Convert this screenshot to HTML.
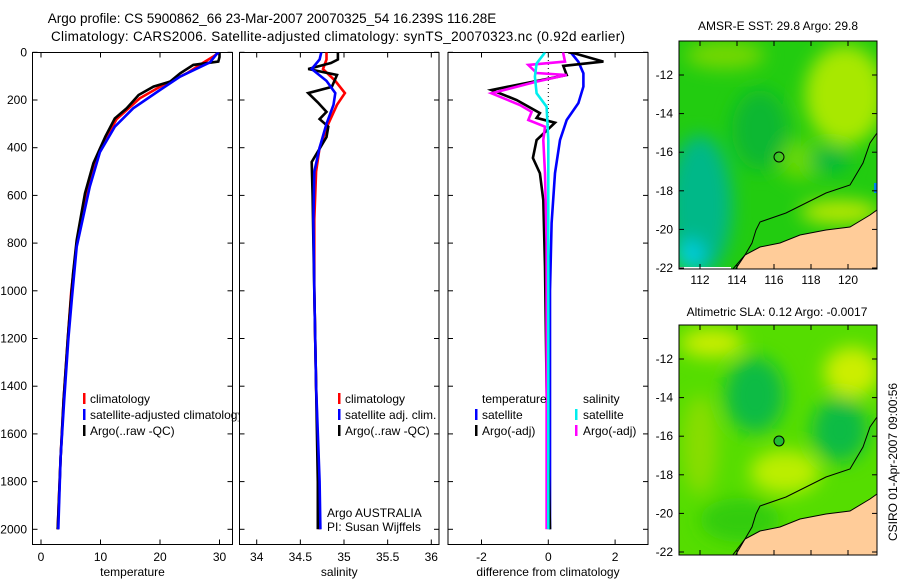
<!DOCTYPE html>
<html><head><meta charset="utf-8">
<style>
html,body{margin:0;padding:0;background:#fff;}
svg{display:block;font-family:"Liberation Sans",sans-serif;}
</style></head>
<body>
<svg id="fig" width="900" height="580" viewBox="0 0 900 580" xmlns="http://www.w3.org/2000/svg">
<defs>
<clipPath id="c1"><rect x="32.5" y="52.5" width="200" height="492"/></clipPath>
<clipPath id="c2"><rect x="239.5" y="52.5" width="199.5" height="492"/></clipPath>
<clipPath id="c3"><rect x="448" y="52.5" width="200" height="492"/></clipPath>
<clipPath id="cl1"><rect x="32.5" y="52.5" width="206" height="492"/></clipPath>
<clipPath id="m1"><rect x="679" y="41" width="198" height="228"/></clipPath>
<clipPath id="m2"><rect x="679" y="325" width="198" height="230"/></clipPath>
<filter id="bl" x="-50%" y="-50%" width="200%" height="200%"><feGaussianBlur stdDeviation="9"/></filter>
</defs>
<text x="272" y="23" font-size="13.5" text-anchor="middle">Argo profile: CS 5900862_66 23-Mar-2007 20070325_54 16.239S 116.28E</text>
<text x="338" y="41" font-size="13.5" text-anchor="middle" textLength="574">Climatology: CARS2006. Satellite-adjusted climatology: synTS_20070323.nc (0.92d earlier)</text>

<!-- maps -->
<g>
<text x="778" y="30" font-size="12" text-anchor="middle">AMSR-E SST: 29.8 Argo: 29.8</text>
<g clip-path="url(#m1)">
<rect x="679" y="41" width="198" height="228" fill="#22cc10"/>
<g filter="url(#bl)">
<ellipse cx="700" cy="205" rx="32" ry="70" fill="#00b888"/>
<ellipse cx="690" cy="255" rx="15" ry="15" fill="#00ccdd"/>
<ellipse cx="845" cy="95" rx="40" ry="50" fill="#a8e800"/>
<ellipse cx="725" cy="55" rx="40" ry="14" fill="#77d800"/>
<ellipse cx="800" cy="160" rx="22" ry="20" fill="#66d800"/>
<ellipse cx="840" cy="212" rx="40" ry="12" fill="#bbe800"/>
<ellipse cx="760" cy="130" rx="28" ry="40" fill="#10b830"/>
<ellipse cx="830" cy="160" rx="20" ry="12" fill="#00b840"/>
</g>
<rect x="874" y="183" width="4" height="10" fill="#0088ee"/>
<polygon points="735,270 745,255 760,247 780,243 800,235 826,230 850,227 870,215 877,210 877,270" fill="#ffcc99" stroke="#000" stroke-width="1"/>
<polyline points="732,270 745,255 752,243 756,230 760,222 786,213 826,193 850,185 863,163 870,143 877,133" fill="none" stroke="#000" stroke-width="1"/>
<rect x="679" y="267" width="52" height="3" fill="#fff"/>
</g>
<rect x="679" y="41" width="198" height="228" fill="none" stroke="#000"/>
<circle cx="779" cy="157" r="5" fill="none" stroke="#000" stroke-width="1"/>
</g>
<g>
<text x="777" y="316" font-size="12" text-anchor="middle">Altimetric SLA: 0.12 Argo: -0.0017</text>
<g clip-path="url(#m2)">
<rect x="679" y="325" width="198" height="230" fill="#55dd00"/>
<g filter="url(#bl)">
<ellipse cx="755" cy="395" rx="30" ry="38" fill="#11bb44"/>
<ellipse cx="840" cy="430" rx="28" ry="32" fill="#11bb44"/>
<ellipse cx="712" cy="343" rx="32" ry="14" fill="#ccee00"/>
<ellipse cx="852" cy="372" rx="28" ry="25" fill="#ccee00"/>
<ellipse cx="785" cy="472" rx="35" ry="22" fill="#bbee00"/>
<ellipse cx="700" cy="445" rx="18" ry="50" fill="#88dd00"/>
<ellipse cx="740" cy="520" rx="40" ry="22" fill="#33cc11"/>
</g>
<polygon points="735,556 745,539 760,531 780,527 800,519 826,514 850,511 870,499 877,494 877,556" fill="#ffcc99" stroke="#000" stroke-width="1"/>
<polyline points="732,556 745,539 752,527 756,514 760,506 786,497 826,477 850,469 863,447 870,427 877,417" fill="none" stroke="#000" stroke-width="1"/>
</g>
<rect x="679" y="325" width="198" height="230" fill="none" stroke="#000"/>
<circle cx="779" cy="441" r="5" fill="#22bb33" stroke="#000" stroke-width="1"/>
</g>
<text transform="translate(897,462) rotate(-90)" font-size="12" text-anchor="middle">CSIRO 01-Apr-2007 09:00:56</text>
<g id="dyn"></g>
</svg>
<script>
// ---- data ----
const tempDepth = [0,20,39,53,88,123,144,179,235,277,354,465,591,787,926,1040,1200,1458,1700,2000];
const tempArgo  = [30.0,30.0,29.8,25.6,23.4,21.7,18.9,16.4,14.4,12.4,10.8,8.8,7.4,6.0,5.4,5.0,4.5,3.8,3.3,2.8];
const climDepth = [0,17,40,88,137,193,280,405,563,800,1000,1200,1458,1700,2000];
const tempClim  = [29.9,29.0,27.5,24.5,20.5,16.6,12.7,9.9,7.9,6.0,5.1,4.5,3.8,3.3,2.8];
const tempSat   = [29.9,29.6,28.4,23.4,20.0,15.5,12.4,9.9,8.2,6.0,5.2,4.6,3.9,3.3,2.9];
const satDepth  = [0,5,42,102,158,235,312,419,563,815,1031,1200,1458,1700,2000];

const salDepthArgo = [0,30,45,70,95,145,171,210,250,280,312,355,460,600,800,1000,1400,1800,2000];
const salArgo      = [34.93,34.93,34.85,34.59,34.92,34.86,34.59,34.70,34.80,34.72,34.82,34.80,34.63,34.64,34.65,34.66,34.68,34.70,34.70];
const salDepthClim = [0,30,70,120,171,220,300,400,500,700,1000,1400,1800,2000];
const salClim      = [34.80,34.80,34.76,34.90,35.01,34.92,34.82,34.72,34.68,34.66,34.66,34.68,34.71,34.72];
const salSat       = [34.74,34.72,34.63,34.80,34.90,34.88,34.80,34.72,34.66,34.65,34.66,34.68,34.72,34.73];

const dTDepth = [0,3,39,57,95,158,200,255,275,295,368,443,507,620,900,1400,2000];
const dTArgo  = [0.6,0.75,1.65,0.45,0.55,-1.7,-0.95,-0.25,-0.35,0.2,-0.35,-0.46,-0.25,-0.15,-0.1,-0.05,0.05];
const dTSatDepth = [0,5,40,88,144,213,284,368,507,716,1000,1500,2000];
const dTSat   = [0.65,0.7,0.9,1.05,1.05,0.9,0.55,0.35,0.2,0.1,0.05,0.05,0.05];
const dSDepth = [0,5,39,53,87,95,123,172,221,250,284,312,368,507,800,1400,2000];
const dSArgo  = [0.45,0.45,0.5,-0.6,-0.35,0.55,-0.35,-1.7,-0.85,-0.5,-0.6,-0.1,-0.15,-0.1,-0.05,-0.05,-0.05];
const dSSatDepth = [0,10,47,102,172,228,368,600,1000,2000];
const dSSat   = [-0.1,-0.15,-0.35,-0.4,-0.35,-0.05,0,0,0,0];

const depthTicks = [0,200,400,600,800,1000,1200,1400,1600,1800,2000];
const tempTicks = [0,10,20,30];
const salTicks = [34,34.5,35,35.5,36];
const diffTicks = [-2,0,2];
const mapLatLabels = ['-12','-14','-16','-18','-20','-22'];
const mapLonLabels = ['112','114','116','118','120'];

// ---- scales ----
const yD = d => 52.3 + d*0.2385;
const xT = t => 41 + t*5.95;
const xS = s => 256.7 + (s-34)*87.3;
const xF = v => 548.3 + v*33.4;

const NS='http://www.w3.org/2000/svg';
const root=document.getElementById('dyn');
function mk(tag,attrs,parent){const e=document.createElementNS(NS,tag);for(const k in attrs)e.setAttribute(k,attrs[k]);(parent||root).appendChild(e);return e;}
function line(depths,vals,xs,color,clip,name){
  const pts=depths.map((d,i)=>xs(vals[i]).toFixed(1)+','+yD(d).toFixed(1)).join(' ');
  const p=mk('polyline',{points:pts,fill:'none',stroke:color,'stroke-width':2.6,'clip-path':'url(#'+clip+')'});
  
  
}
function panel(x0,x1,ticks,xs,labelFmt,title,clip,name){
  const g=mk('g',{});
  
  
  mk('rect',{x:x0,y:52.5,width:x1-x0,height:492,fill:'#fff',stroke:'#000','stroke-width':1},g);
  depthTicks.forEach(d=>{
    mk('line',{x1:x0,x2:x0+5,y1:yD(d),y2:yD(d),stroke:'#000'},g);
    mk('line',{x1:x1-5,x2:x1,y1:yD(d),y2:yD(d),stroke:'#000'},g);
  });
  ticks.forEach(t=>{
    const x=xs(t);
    mk('line',{x1:x,x2:x,y1:52.5,y2:57.5,stroke:'#000'},g);
    mk('line',{x1:x,x2:x,y1:539.5,y2:544.5,stroke:'#000'},g);
    const tx=mk('text',{x:x,y:561,'font-size':12,'text-anchor':'middle'},g);
    tx.textContent=labelFmt(t);
    
    
  });
  const tl=mk('text',{x:(x0+x1)/2,y:576,'font-size':12,'text-anchor':'middle'},g);
  tl.textContent=title;
  
  
}
panel(32.5,232.5,tempTicks,xT,t=>String(t),'temperature','c1','temperature-panel');
panel(239.5,439,salTicks,xS,t=>String(t),'salinity','c2','salinity-panel');
panel(448,648,diffTicks,xF,t=>String(t),'difference from climatology','c3','difference-panel');

depthTicks.forEach(d=>{
  const t=mk('text',{x:27,y:yD(d)+4,'font-size':12,'text-anchor':'end'});
  t.textContent=String(d);
  
  
});

// map ticks
function mapTicks(top,bottom,latY0,showLon){
  mapLatLabels.forEach((l,i)=>{
    const y=latY0+i*38.6;
    mk('line',{x1:679,x2:684,y1:y,y2:y,stroke:'#000'});
    mk('line',{x1:872,x2:877,y1:y,y2:y,stroke:'#000'});
    const t=mk('text',{x:673,y:y+4,'font-size':12,'text-anchor':'end'});
    t.textContent=l;
    
    
  });
  mapLonLabels.forEach((l,i)=>{
    const x=700+i*37;
    mk('line',{x1:x,x2:x,y1:top,y2:top+5,stroke:'#000'});
    mk('line',{x1:x,x2:x,y1:bottom-5,y2:bottom,stroke:'#000'});
    if(showLon){
      const t=mk('text',{x:x,y:bottom+15,'font-size':12,'text-anchor':'middle'});
      t.textContent=l;
      
      
    }
  });
}
mapTicks(41,269,75,true);
mapTicks(325,555,359,false);

// zero line in diff panel
const zl=mk('line',{x1:xF(0),x2:xF(0),y1:60,y2:200,stroke:'#000','stroke-dasharray':'1,3'});



// series
line(climDepth,tempClim,xT,'#ff0000','c1','temp-climatology-line');
line(tempDepth,tempArgo,xT,'#000000','c1','temp-argo-line');
line(satDepth,tempSat,xT,'#0000ff','c1','temp-satellite-line');
line(salDepthClim,salClim,xS,'#ff0000','c2','sal-climatology-line');
line(salDepthArgo,salArgo,xS,'#000000','c2','sal-argo-line');
line(salDepthClim,salSat,xS,'#0000ff','c2','sal-satellite-line');
line(dTSatDepth,dTSat,xF,'#0000ff','c3','dtemp-satellite-line');
line(dTDepth,dTArgo,xF,'#000000','c3','dtemp-argo-line');
line(dSDepth,dSArgo,xF,'#ff00ff','c3','dsal-argo-line');
line(dSSatDepth,dSSat,xF,'#00eeee','c3','dsal-satellite-line');

// legends
function legend(mx,tx,y,color,text,clip){
  if(color){const m=mk('rect',{x:mx-1,y:y-10,width:2.5,height:11,fill:color});
    
    }
  const t=mk('text',{x:tx,y:y,'font-size':12});
  if(clip)t.setAttribute('clip-path','url(#'+clip+')');
  t.textContent=text;
  
  
}
legend(84,90,403,'#ff0000','climatology');
legend(84,90,419,'#0000ff','satellite-adjusted climatology','cl1');
legend(84,90,435,'#000000','Argo(..raw -QC)');
legend(339,345,403,'#ff0000','climatology');
legend(339,345,419,'#0000ff','satellite adj. clim.');
legend(339,345,435,'#000000','Argo(..raw -QC)');
legend(0,482,403,null,'temperature');
legend(476,482,419,'#0000ff','satellite');
legend(476,482,435,'#000000','Argo(-adj)');
legend(0,583,403,null,'salinity');
legend(576,583,419,'#00eeee','satellite');
legend(576,583,435,'#ff00ff','Argo(-adj)');

const a1=mk('text',{x:327,y:517,'font-size':12});
a1.textContent='Argo AUSTRALIA';


const a2=mk('text',{x:327,y:531,'font-size':12});
a2.textContent='PI: Susan Wijffels';


</script>
</body></html>
